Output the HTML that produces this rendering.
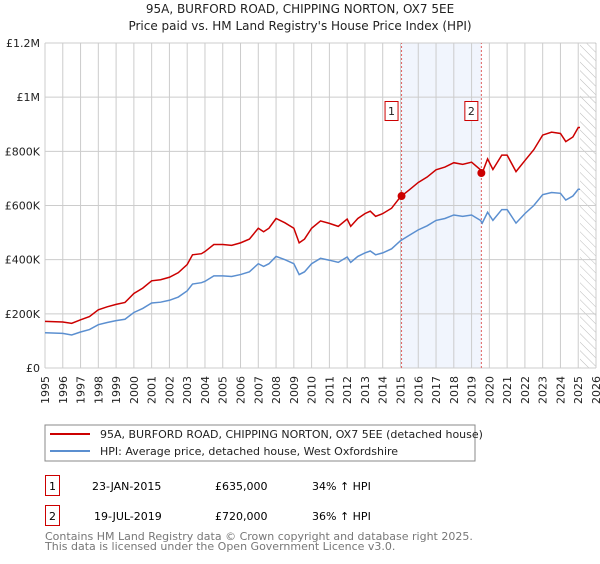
<!DOCTYPE html>
<html><head><meta charset="utf-8"><style>
body{margin:0;background:#fff;width:600px;height:560px;overflow:hidden;font-family:"DejaVu Sans","Liberation Sans",sans-serif;}
svg text{font-family:"DejaVu Sans","Liberation Sans",sans-serif;}
</style></head><body>
<svg id="c" width="600" height="560">
<defs><pattern id="hatch" width="6" height="6" patternUnits="userSpaceOnUse" patternTransform="rotate(-45)"><line x1="0" y1="0" x2="0" y2="6" stroke="#bbb" stroke-width="1"/></pattern></defs>
<text x="300" y="13" text-anchor="middle" font-size="12" fill="#222">95A, BURFORD ROAD, CHIPPING NORTON, OX7 5EE</text>
<text x="300" y="30" text-anchor="middle" font-size="12" fill="#222">Price paid vs. HM Land Registry's House Price Index (HPI)</text>
<g id="grid"></g><g id="marks"></g><g id="axes"></g>
<rect x="45" y="425" width="430" height="36" fill="#fff" stroke="#888"/>
<line x1="50" y1="434" x2="90" y2="434" stroke="#cc0000" stroke-width="2"/>
<text x="100" y="438" font-size="11" fill="#222">95A, BURFORD ROAD, CHIPPING NORTON, OX7 5EE (detached house)</text>
<line x1="50" y1="451" x2="90" y2="451" stroke="#5b8fd0" stroke-width="2"/>
<text x="100" y="455" font-size="11" fill="#222">HPI: Average price, detached house, West Oxfordshire</text>
<g>
<rect x="45.5" y="475.5" width="14" height="20" fill="#fff" stroke="#cc0000"/><text x="52.5" y="490" text-anchor="middle" font-size="11">1</text>
<text x="92" y="490" font-size="11">23-JAN-2015</text><text x="215" y="490" font-size="11">£635,000</text><text x="312" y="490" font-size="11">34% ↑ HPI</text></g>
<g>
<rect x="45.5" y="505.5" width="14" height="20" fill="#fff" stroke="#cc0000"/><text x="52.5" y="520" text-anchor="middle" font-size="11">2</text>
<text x="94" y="520" font-size="11">19-JUL-2019</text><text x="215" y="520" font-size="11">£720,000</text><text x="312" y="520" font-size="11">36% ↑ HPI</text></g>
<text x="45" y="540" font-size="11" fill="#777">Contains HM Land Registry data © Crown copyright and database right 2025.</text>
<text x="45" y="550" font-size="11" fill="#777">This data is licensed under the Open Government Licence v3.0.</text>
</svg>
<script>
const hpiYears=[1995,1996,1996.5,1997,1997.5,1998,1998.5,1999,1999.5,2000,2000.5,2001,2001.5,2002,2002.5,2003,2003.3,2003.8,2004,2004.5,2005,2005.5,2006,2006.5,2007,2007.3,2007.6,2008,2008.5,2009,2009.3,2009.6,2010,2010.5,2011,2011.5,2012,2012.2,2012.6,2013,2013.3,2013.6,2014,2014.5,2015,2015.5,2016,2016.5,2017,2017.5,2018,2018.5,2019,2019.5,2019.6,2019.9,2020.2,2020.7,2021,2021.5,2022,2022.5,2023,2023.5,2024,2024.3,2024.7,2025,2025.1];
const hpiValues=[130,128,122,133,142,160,168,175,180,205,220,240,243,250,262,285,310,315,320,340,340,338,345,355,385,375,385,412,400,385,345,355,385,405,398,390,410,390,412,425,432,418,425,440,470,490,510,525,545,552,565,560,565,545,535,575,545,585,585,535,570,600,640,648,645,620,635,660,660];
const propValues=[172,170,165,178,190,215,226,235,242,275,295,322,326,335,352,382,418,422,430,456,456,453,462,476,516,503,516,552,536,516,462,476,516,543,534,523,550,523,552,570,579,560,570,590,632,658,685,705,732,742,758,752,760,732,720,772,733,786,786,725,766,806,860,871,866,836,853,888,888];
const saleYears=[2015.06,2019.55];
const saleValues=[635,720];
const saleLabels=["1","2"];
const yTicks=[0,200,400,600,800,1000,1200];
const yTickLabels=["£0","£200K","£400K","£600K","£800K","£1M","£1.2M"];
const xMin=1995,xMax=2026,yMax=1200;
const X=v=>45+(v-xMin)/(xMax-xMin)*551;
const Y=v=>368-v/yMax*325;
const NS="http://www.w3.org/2000/svg";
function mk(p,t,a){const e=document.createElementNS(NS,t);for(const k in a)e.setAttribute(k,a[k]);p.appendChild(e);return e;}
const grid=document.getElementById('grid'),marks=document.getElementById('marks'),axes=document.getElementById('axes');
mk(grid,'rect',{x:X(saleYears[0]),y:Y(yMax),width:X(saleYears[1])-X(saleYears[0]),height:Y(0)-Y(yMax),fill:'#eef3fc',opacity:0.8});
const hz=mk(grid,'rect',{x:X(2025.1),y:Y(yMax),width:X(xMax)-X(2025.1),height:Y(0)-Y(yMax),fill:'url(#hatch)'});


for(let yr=xMin;yr<=xMax;yr++){
  mk(grid,'line',{x1:X(yr),x2:X(yr),y1:Y(0),y2:Y(yMax),stroke:'#ccc','stroke-width':1});
  const t=mk(axes,'text',{x:0,y:0,'font-size':11,fill:'#222','text-anchor':'end',transform:`translate(${X(yr)+4},${Y(0)+8}) rotate(-90)`});
  t.textContent=yr;
  
  
}
yTicks.forEach((v,i)=>{
  mk(grid,'line',{x1:45,x2:596,y1:Y(v),y2:Y(v),stroke:'#ccc','stroke-width':1});
  const t=mk(axes,'text',{x:40,y:Y(v)+4,'font-size':11,fill:'#222','text-anchor':'end'});
  t.textContent=yTickLabels[i];
  
  
});
saleYears.forEach(s=>mk(grid,'line',{x1:X(s),x2:X(s),y1:Y(0),y2:Y(yMax),stroke:'#e06060','stroke-width':1,'stroke-dasharray':'2,2'}));
const hp=mk(marks,'polyline',{points:hpiYears.map((y,i)=>X(y)+','+Y(hpiValues[i])).join(' '),fill:'none',stroke:'#5b8fd0','stroke-width':1.5});


const pp=mk(marks,'polyline',{points:hpiYears.map((y,i)=>X(y)+','+Y(propValues[i])).join(' '),fill:'none',stroke:'#cc0000','stroke-width':1.5});


saleYears.forEach((s,i)=>{
  const c=mk(marks,'circle',{cx:X(s),cy:Y(saleValues[i]),r:4,fill:'#cc0000'});
  
  
  const g=mk(marks,'g',{});
  
  
  mk(g,'rect',{x:X(s)-16.5,y:101.5,width:13,height:19,fill:'#fff',stroke:'#cc0000'});
  const t=mk(g,'text',{x:X(s)-10,y:115,'font-size':11,'text-anchor':'middle',fill:'#222'});t.textContent=saleLabels[i];
});
</script>
</body></html>
